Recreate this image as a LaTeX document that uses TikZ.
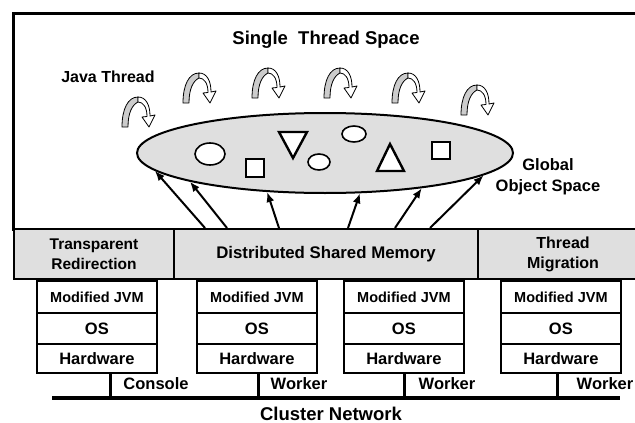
\documentclass[tikz,border=0pt]{standalone}
\usepackage{fontspec}
\setmainfont{Liberation Sans}
\usetikzlibrary{arrows.meta,shapes.geometric}
\tikzset{
  jthread/.pic={
    \filldraw[fill=gray!40, line width=0.8pt, line join=round]
      (0,0) -- (6,0) .. controls (6,-14) and (10,-22) .. (16,-25) -- (16,-30)
      .. controls (6,-30) and (0,-18) .. (0,0) -- cycle;
    \filldraw[fill=white, line width=0.8pt, line join=round]
      (16,-30) .. controls (24,-30) and (28,-22) .. (28,-11) -- (33,-12) -- (27,0)
      -- (20,-10) -- (25,-10.5) .. controls (25,-20) and (21,-25) .. (16,-25) -- cycle;
  },
  bandbox/.style={draw, fill=gray!25, line width=2pt, anchor=north west, inner sep=0pt,
    minimum height=50pt, align=center, font=\bfseries\fontsize{15.5}{20}\selectfont},
  layer/.style={draw, fill=white, line width=1.8pt, anchor=north west, inner sep=0pt,
    minimum width=120pt, font=\bfseries\fontsize{16.5}{18}\selectfont},
  jvm/.style={layer, minimum height=32pt, font=\bfseries\fontsize{14.5}{16}\selectfont},
  oslayer/.style={layer, minimum height=31pt},
  hwlayer/.style={layer, minimum height=29pt},
  lbl/.style={inner sep=0pt, font=\bfseries\fontsize{16}{18}\selectfont},
  link/.style={line width=3pt},
  objarrow/.style={line width=2pt, -{Latex[length=10pt,width=8pt]}},
  obj/.style={draw, fill=white, line width=1.6pt},
}
\begin{document}
\begin{tikzpicture}[x=1pt,y=-1pt]
\useasboundingbox (0,0) rectangle (635,423);
\clip (0,0) rectangle (635,423);
% outer space
\node[draw, line width=3pt, anchor=north west, minimum width=630pt, minimum height=216pt, inner sep=0pt] (tss) at (12,12) {};
\node[lbl, font=\bfseries\fontsize{18.5}{20}\selectfont] (title) at (326,40) {Single\ \ Thread Space};
\node[lbl] (jt) at (108,77) {Java Thread};
% threads
\pic (th1) at (122,127) {jthread};
\pic (th2) at (183,103) {jthread};
\pic (th3) at (252,98) {jthread};
\pic (th4) at (324,98) {jthread};
\pic (th5) at (392,103) {jthread};
\pic (th6) at (461,115) {jthread};
% global object space
\node[ellipse, draw, fill=gray!25, line width=2pt, minimum width=376pt, minimum height=80pt, inner sep=0pt] (gos) at (325,153) {};
\node[lbl, align=center, font=\bfseries\fontsize{16.5}{21}\selectfont] (gosl) at (548,177) {Global\\Object Space};
% objects
\draw[obj] (210,154) ellipse [x radius=15, y radius=11];
\draw[obj] (246,159) rectangle (264,177);
\draw[obj, line width=2.4pt, line join=miter] (279,132) -- (307,132) -- (293,158) -- cycle;
\draw[obj] (319,162) ellipse [x radius=11, y radius=8];
\draw[obj] (354,134) ellipse [x radius=12, y radius=8];
\draw[obj, line width=2.4pt, line join=miter] (377,171) -- (404,171) -- (390,144) -- cycle;
\draw[obj] (432,142) rectangle (450,159);
% band
\node[bandbox, minimum width=160pt] (tr) at (13,228) {Transparent\\Redirection};
\node[bandbox, minimum width=304pt, font=\bfseries\fontsize{16.8}{20}\selectfont] (dsm) at (173,228) {Distributed Shared Memory};
\node[bandbox, minimum width=170pt, font=\bfseries\fontsize{16}{20}\selectfont] (tm) at (477,228) {Thread\\Migration};
% arrows to objects
\coordinate (t1) at (205,228);
\coordinate (t2) at (227,228);
\coordinate (t3) at (279,228);
\coordinate (t4) at (348,228);
\coordinate (t5) at (395,228);
\coordinate (t6) at (430,228);
\draw[objarrow] (t1) -- (gos.186.5);
\draw[objarrow] (t2) -- (gos.192.7);
\draw[objarrow] (t3) -- (gos.214.2);
\draw[objarrow] (t4) -- (gos.311.1);
\draw[objarrow] (t5) -- (gos.340.5);
\draw[objarrow] (t6) -- (gos.352);
% stacks
\foreach \n/\x in {a/36, b/196, c/343, d/500}{
  \node[jvm] (jvm\n) at (\x,280) {Modified JVM};
  \node[oslayer] (os\n) at (\x,312) {OS};
  \node[hwlayer] (hw\n) at (\x,343) {Hardware};
}
% network
\coordinate (nl) at (52,398);
\coordinate (nr) at (620,398);
\draw[line width=4pt] (nl) -- (nr);
\coordinate (na) at (110,398);
\coordinate (nb) at (258,398);
\coordinate (nc) at (404,398);
\coordinate (nd) at (557,398);
\draw[link] (hwa.south -| na) -- (na);
\draw[link] (hwb.south -| nb) -- (nb);
\draw[link] (hwc.south -| nc) -- (nc);
\draw[link] (hwd.south -| nd) -- (nd);
\node[lbl, font=\bfseries\fontsize{16.5}{18}\selectfont] (cons) at (156,384) {Console};
\node[lbl, font=\bfseries\fontsize{16.5}{18}\selectfont] (w1) at (299,384) {Worker};
\node[lbl, font=\bfseries\fontsize{16.5}{18}\selectfont] (w2) at (447,384) {Worker};
\node[lbl, font=\bfseries\fontsize{16.5}{18}\selectfont] (w3) at (605,384) {Worker};
\node[lbl, font=\bfseries\fontsize{18.5}{18}\selectfont] (cn) at (331,414) {Cluster Network};
\end{tikzpicture}
\end{document}
